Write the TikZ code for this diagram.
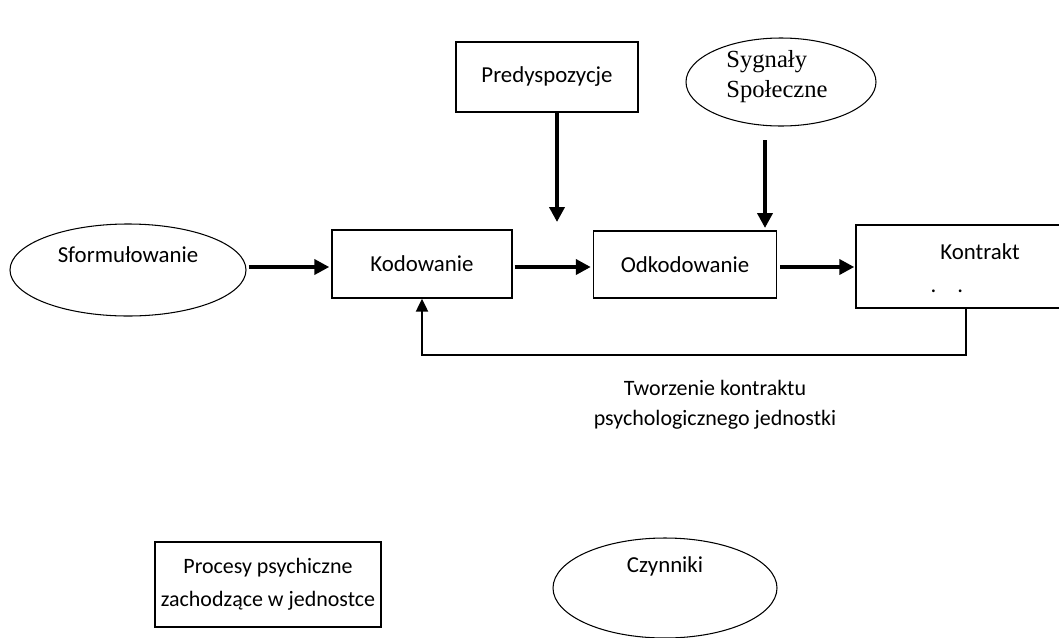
\documentclass[tikz,border=0pt]{standalone}
\usepackage{fontspec}
\setmainfont{Carlito}
\newfontfamily\serifpl{Liberation Serif}
\usetikzlibrary{arrows.meta,shapes.geometric}

\begin{document}
\begin{tikzpicture}[x=0.2mm,y=-0.2mm,
        font=\fontsize{13}{20}\selectfont,
        box/.style={draw, line width=0.8pt, rectangle},
        oval/.style={draw, line width=0.6pt, ellipse, inner sep=0pt},
        arr/.style={line width=2.3pt, -{Triangle[length=3mm, width=3mm]}},
        back arr/.style={line width=1.3pt, -{Triangle[length=2.6mm, width=2.4mm]}}]
        \useasboundingbox[fill=white](0,0) rectangle (1059,637);

        % gorny rzad
        \node[box, minimum width=36.4mm, minimum height=14mm  ] (pred) at (547,77)  {Predyspozycje};
        \node[oval, minimum width=38mm,  minimum height=17.6mm] (syg)  at (781,82)  {};
        \node[align=left, font=\serifpl\fontsize{14}{17}\selectfont] (sygtxt) at (777,77) {Sygnały\\Społeczne};

        % srodkowy rzad
        \node[oval, minimum width=47.2mm, minimum height=18.4mm] (sform) at (128,270) {};
        \node (sformtxt) at (128,255) {Sformułowanie};
        \node[box, minimum width=36mm,   minimum height=13.6mm] (kod)   at (422,264) {Kodowanie};
        \node[box, minimum width=36.6mm, minimum height=13.4mm] (odkod) at (685,264.5) {Odkodowanie};
        \node[box, minimum width=42.4mm, minimum height=16.6mm] (kontrakt) at (962,266.5) {};
        \node (kontrakttxt) at (980,252) {Kontrakt};
        \node (kropki) at (947,291) {.\hspace{4.2mm}.};

        \coordinate (row) at (0,267);
        \draw[arr] ([xshift=0.4mm]sform.east |- row) -- ([xshift=-0.4mm]kod.west |- row);
        \draw[arr] ([xshift=0.4mm]kod.east   |- row) -- ([xshift=-0.4mm]odkod.west |- row);
        \draw[arr] ([xshift=0.6mm]odkod.east |- row) -- ([xshift=-0.2mm]kontrakt.west |- row);

        % strzalki z gory
        \coordinate (predend) at (557,222);
        \draw[arr] (pred.south -| predend) -- (predend);
        \coordinate (sygstart) at (765,140);
        \coordinate (sygend)   at (765,228);
        \draw[arr] (sygstart) -- (sygend);

        % sprzezenie zwrotne
        \coordinate (fb) at (966,355);
        \draw[back arr] (kontrakt.south -| fb) -- (fb) -| (kod.south);
        \node[align=center, font=\fontsize{12.5}{17}\selectfont] (tworz) at (715,405) {Tworzenie kontraktu\\psychologicznego jednostki};

        % legenda
        \node[box, minimum width=42.6mm, minimum height=17mm, align=center, font=\fontsize{12.5}{19}\selectfont] (procesy) at (268,584.5) {Procesy psychiczne\\zachodzące w jednostce};
        \node[oval, minimum width=44.8mm, minimum height=20mm] (czyn) at (665,588) {};
        \node (czyntxt) at (665,566) {Czynniki};
      \end{tikzpicture}
\end{document}
